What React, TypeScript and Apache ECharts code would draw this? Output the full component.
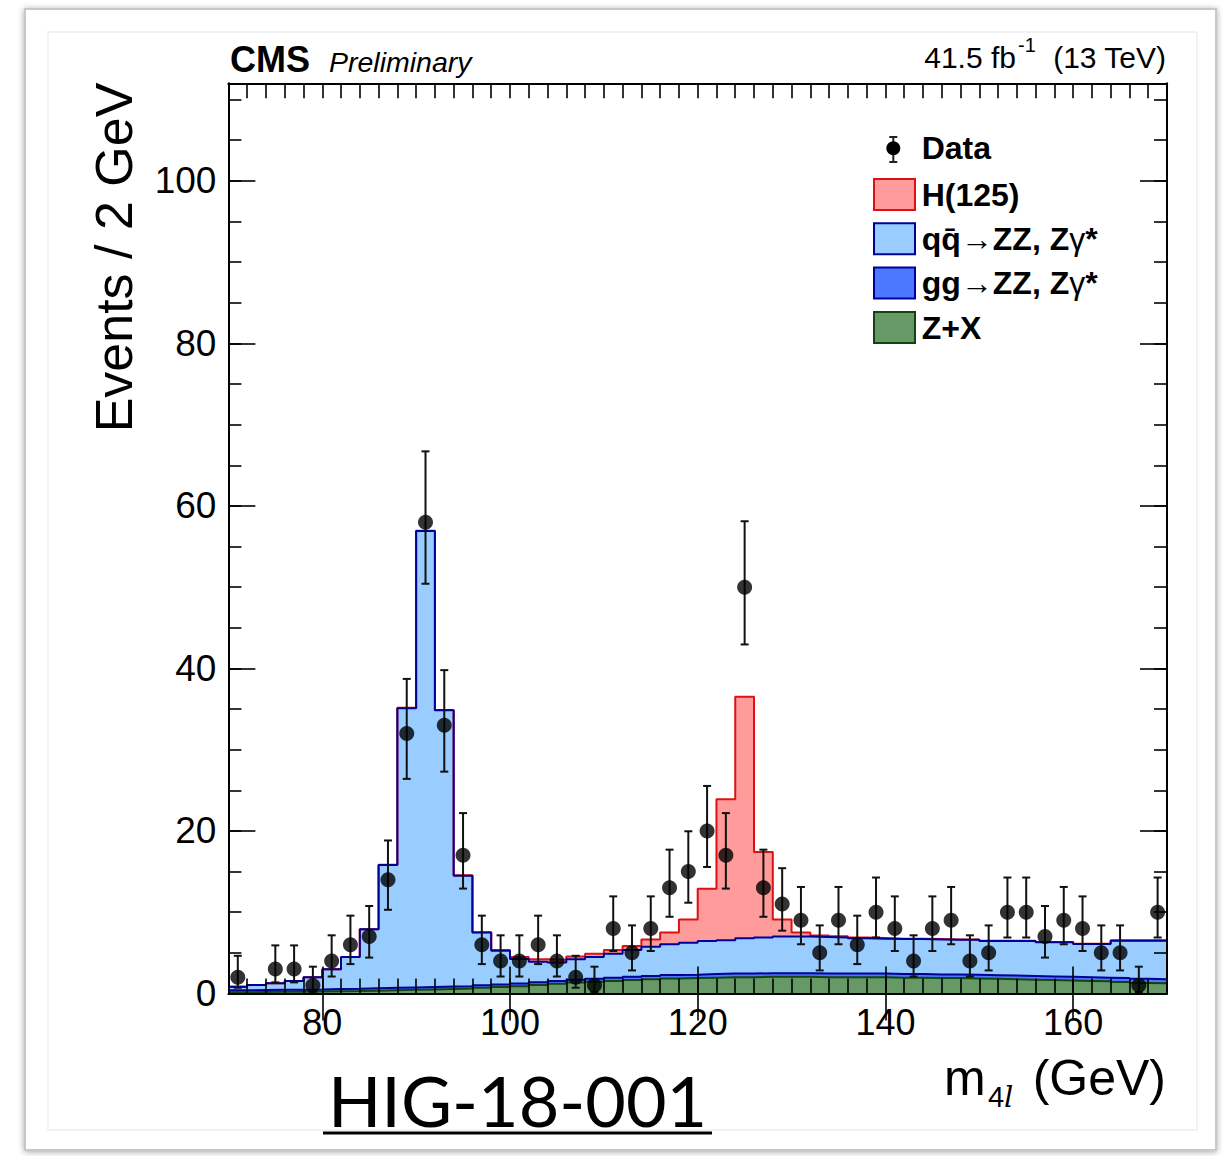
import React, { useEffect, useRef } from "react";
import * as echarts from "echarts";

// ---------- data ----------
const binEdges = [70,72,74,76,78,80,82,84,86,88,90,92,94,96,98,100,102,104,106,108,110,112,114,116,118,120,122,124,126,128,130,132,134,136,138,140,142,144,146,148,150,152,154,156,158,160,162,164,166,168,170];

const dataCounts = [2,0,3,3,1,4,6,7,14,32,58,33,17,6,4,4,6,4,2,1,8,5,8,13,15,20,17,50,13,11,9,5,9,6,10,8,4,8,9,4,5,10,10,7,9,8,5,5,1,10];
const dataLow = [0.71,0,1.37,1.37,0.17,2.09,3.62,4.42,10.3,26.41,50.42,27.3,12.91,3.62,2.09,2.09,3.62,2.09,0.71,0.17,5.23,2.84,5.23,9.44,11.17,15.57,12.91,42.95,9.44,7.73,6.06,2.84,6.06,3.62,6.89,5.23,2.09,5.23,6.06,2.09,2.84,6.89,6.89,4.42,6.06,5.23,2.84,2.84,0.17,6.89];
const dataHigh = [4.64,0,5.92,5.92,3.3,7.16,9.58,10.77,18.83,38.71,66.71,39.79,22.2,9.58,7.16,7.16,9.58,7.16,4.64,3.3,11.95,8.38,11.95,17.7,19.96,25.54,22.2,58.11,17.7,15.42,13.11,8.38,13.11,9.58,14.27,11.95,7.16,11.95,13.11,7.16,8.38,14.27,14.27,10.77,13.11,11.95,8.38,8.38,3.3,14.27];

const zPlusX = [0.15,0.18,0.2,0.22,0.25,0.28,0.3,0.35,0.4,0.45, 0.5,0.55,0.6,0.7,0.8,0.9,1.05,1.2,1.35,1.45, 1.55,1.65,1.75,1.85,1.9,1.95,2.0,2.0,2.05,2.05, 2.05,2.0,2.0,2.0,2.0,1.95,1.95,1.9,1.9,1.85, 1.8,1.75,1.7,1.65,1.6,1.55,1.5,1.4,1.3,1.25];
const ggZZ = [0.25,0.25,0.25,0.25,0.25,0.28,0.28,0.3,0.3,0.3, 0.3,0.3,0.3,0.3,0.32,0.32,0.32,0.35,0.35,0.35, 0.38,0.4,0.4,0.42,0.42,0.45,0.45,0.45,0.45,0.45, 0.45,0.45,0.45,0.45,0.45,0.45,0.45,0.45,0.45,0.45, 0.45,0.45,0.45,0.45,0.45,0.45,0.45,0.5,0.5,0.5];
const qqZZ = [0.44,0.62,0.8,1.07,1.5,2.41,3.92,7.25,15.1,34.35, 56.1,34.0,13.6,6.5,4.14,3.02,2.53,2.25,2.5,2.7, 2.97,3.3,3.6,3.78,3.93,4.05,4.1,4.35,4.4,4.5, 4.5,4.5,4.45,4.35,4.3,4.3,4.3,4.3,4.25,4.3, 4.2,4.25,4.3,4.2,4.25,4.08,4.13,4.6,4.7,4.75];
const higgs = [0,0,0,0,0,0,0,0,0.05,0.05, 0.05,0.05,0.05,0.05,0.1,0.25,0.3,0.35,0.35,0.4, 0.45,0.5,0.9,1.45,2.85,6.45,17.35,29.7,10.5,2.1, 0.5,0.2,0.15,0.1,0.08,0.05,0.05,0.05,0.05,0.05, 0.05,0.05,0.05,0.05,0.05,0.05,0.05,0.05,0.05,0.05];

const xTickLabels = [80, 100, 120, 140, 160];
const yTickLabels = [0, 20, 40, 60, 80, 100];

// ---------- helpers ----------
const FONT = "'Liberation Sans', Arial, Helvetica, sans-serif";

function cumulate(...layers: number[][]) {
  return layers[0].map((_, i) => layers.reduce((s, l) => s + l[i], 0));
}
function stepPoints(vals: number[]) {
  const pts = vals.map((v, i) => [binEdges[i], v]);
  pts.push([binEdges[vals.length], vals[vals.length - 1]]);
  return pts;
}

export default function App() {
  const ref = useRef<HTMLDivElement>(null);
  useEffect(() => {
    const chart = echarts.init(ref.current!, null, { renderer: "svg" });

    const c1 = cumulate(zPlusX);
    const c2 = cumulate(zPlusX, ggZZ);
    const c3 = cumulate(zPlusX, ggZZ, qqZZ);
    const c4 = cumulate(zPlusX, ggZZ, qqZZ, higgs);

    const hist = (name: string, vals: number[], fill: string, stroke: string) => ({
      type: "line",
      name,
      data: stepPoints(vals),
      step: "end",
      symbol: "none",
      showSymbol: false,
      silent: true,
      lineStyle: { color: stroke, width: 2 },
      itemStyle: { color: fill },
      areaStyle: { color: fill, opacity: 1, origin: "start" },
      z: 2,
    });

    const pts: number[][] = [];
    dataCounts.forEach((n, i) => {
      if (n > 0) pts.push([(binEdges[i] + binEdges[i + 1]) / 2, n, dataLow[i], dataHigh[i]]);
    });

    const axisLine = { show: true, onZero: false, lineStyle: { color: "#000", width: 2 } };
    const tickStyle = { color: "#000", width: 1.6 };

    const xBase = { type: "value", min: 70, max: 170, interval: 2, splitLine: { show: false }, z: 10 };
    const yBase = { type: "value", min: 0, max: 112, interval: 5, splitLine: { show: false }, z: 10 };

    const legendRows = [
      { y: 194.5, fill: "#ff9b9b", stroke: "#dd1111" },
      { y: 238.7, fill: "#99ccff", stroke: "#000099" },
      { y: 283, fill: "#4b78ff", stroke: "#000099" },
      { y: 327.5, fill: "#669966", stroke: "#114411" },
    ];
    const legendTexts = [
      { y: 148.3, text: "Data" },
      { y: 194.5, text: "H(125)" },
    ];

    const graphics: any[] = [
      // slide frame
      { type: "rect", z: -10, shape: { x: 25, y: 9, width: 1191, height: 1141 }, style: { fill: "#fff", stroke: "#c8c8c8", lineWidth: 2, shadowBlur: 6, shadowColor: "rgba(0,0,0,0.35)", shadowOffsetX: 0, shadowOffsetY: 1 } },
      { type: "rect", z: -9, shape: { x: 48, y: 32, width: 1149, height: 1098 }, style: { fill: "#fff", stroke: "#eeeeee", lineWidth: 1.5 } },
      // header
      { type: "text", z: 50, x: 230, y: 59.2, style: { text: "CMS", font: `bold 36px ${FONT}`, fill: "#000", textVerticalAlign: "middle" } },
      { type: "text", z: 50, x: 329, y: 62, style: { text: "Preliminary", font: `italic 28.5px ${FONT}`, fill: "#000", textVerticalAlign: "middle" } },
      { type: "text", z: 50, x: 1016, y: 57.3, style: { text: "41.5 fb", font: `30px ${FONT}`, fill: "#000", textAlign: "right", textVerticalAlign: "middle" } },
      { type: "text", z: 50, x: 1018, y: 44.8, style: { text: "-1", font: `20px ${FONT}`, fill: "#000", textVerticalAlign: "middle" } },
      { type: "text", z: 50, x: 1166, y: 57.3, style: { text: "(13 TeV)", font: `30px ${FONT}`, fill: "#000", textAlign: "right", textVerticalAlign: "middle" } },
      // y title
      { type: "text", z: 50, x: 114, y: 257.5, rotation: Math.PI / 2, style: { text: "Events / 2 GeV", font: `52px ${FONT}`, fill: "#000", textAlign: "center", textVerticalAlign: "middle" } },
      // x title
      { type: "text", z: 50, x: 944, y: 1078, style: { text: "m", font: `50px ${FONT}`, fill: "#000", textVerticalAlign: "middle" } },
      { type: "text", z: 50, x: 988, y: 1097, style: { text: "4", font: `29px ${FONT}`, fill: "#000", textVerticalAlign: "middle" } },
      { type: "text", z: 50, x: 1004, y: 1097, style: { text: "l", font: `italic 29px 'DejaVu Serif', serif`, fill: "#000", textVerticalAlign: "middle" } },
      { type: "text", z: 50, x: 1166, y: 1078, style: { text: "(GeV)", font: `50px ${FONT}`, fill: "#000", textAlign: "right", textVerticalAlign: "middle" } },
      // HIG label
      { type: "text", z: 50, x: 517.5, y: 1100, style: { text: "HIG-18-001", font: `70px Lato, 'Open Sans', sans-serif`, fill: "#000", textAlign: "center", textVerticalAlign: "middle" } },
      { type: "line", z: 50, shape: { x1: 323, y1: 1133, x2: 712, y2: 1133 }, style: { stroke: "#000", lineWidth: 3 } },
      // legend: data marker
      { type: "line", z: 50, shape: { x1: 893.3, y1: 137, x2: 893.3, y2: 162 }, style: { stroke: "#222", lineWidth: 2 } },
      { type: "line", z: 50, shape: { x1: 889.3, y1: 137, x2: 897.3, y2: 137 }, style: { stroke: "#222", lineWidth: 2 } },
      { type: "line", z: 50, shape: { x1: 889.3, y1: 162, x2: 897.3, y2: 162 }, style: { stroke: "#222", lineWidth: 2 } },
      { type: "circle", z: 51, shape: { cx: 893.3, cy: 148.3, r: 7 }, style: { fill: "#000" } },
    ];
    legendRows.forEach((r) => {
      graphics.push({ type: "rect", z: 50, shape: { x: 874, y: r.y - 15.5, width: 41, height: 31 }, style: { fill: r.fill, stroke: r.stroke, lineWidth: 2 } });
    });
    legendTexts.forEach((t) => {
      graphics.push({ type: "text", z: 50, x: 921.7, y: t.y, style: { text: t.text, font: `bold 32px ${FONT}`, fill: "#000", textVerticalAlign: "middle" } });
    });
    const richLegend = (prefix: string) =>
      `{b|${prefix}}{n|\u2192}{b|ZZ, Z}{n|\u03b3}{b|*}`;
    const rich = {
      b: { font: `bold 32px ${FONT}`, fill: "#000" },
      n: { font: `32px ${FONT}`, fill: "#000" },
    };
    graphics.push({ type: "text", z: 50, x: 921.7, y: 238.7, style: { text: richLegend("qq\u0304"), rich, textVerticalAlign: "middle" } });
    graphics.push({ type: "text", z: 50, x: 921.7, y: 283, style: { text: richLegend("gg"), rich, textVerticalAlign: "middle" } });
    graphics.push({ type: "text", z: 50, x: 921.7, y: 327.5, style: { text: "Z+X", font: `bold 32px ${FONT}`, fill: "#000", textVerticalAlign: "middle" } });

    const option: any = {
      animation: false,
      backgroundColor: "#ffffff",
      grid: { left: 228.4, right: 56, top: 83.3, bottom: 162.5, containLabel: false },
      xAxis: [
        { ...xBase, position: "bottom", axisLine, axisTick: { inside: true, length: 15, lineStyle: tickStyle },
          axisLabel: { customValues: xTickLabels, fontSize: 36, fontFamily: FONT, color: "#000", margin: 11 } },
        { ...xBase, position: "bottom", axisLine: { show: false }, axisTick: { inside: true, length: 27, customValues: xTickLabels, lineStyle: tickStyle }, axisLabel: { show: false } },
        { ...xBase, position: "top", axisLine, axisTick: { inside: true, length: 15, lineStyle: tickStyle }, axisLabel: { show: false } },
        { ...xBase, position: "top", axisLine: { show: false }, axisTick: { inside: true, length: 27, customValues: xTickLabels, lineStyle: tickStyle }, axisLabel: { show: false } },
      ],
      yAxis: [
        { ...yBase, position: "left", axisLine, axisTick: { inside: true, length: 13, lineStyle: tickStyle },
          axisLabel: { customValues: yTickLabels, fontSize: 37, fontFamily: FONT, color: "#000", margin: 12 } },
        { ...yBase, position: "left", axisLine: { show: false }, axisTick: { inside: true, length: 27, customValues: yTickLabels, lineStyle: tickStyle }, axisLabel: { show: false } },
        { ...yBase, position: "right", axisLine, axisTick: { inside: true, length: 13, lineStyle: tickStyle }, axisLabel: { show: false } },
        { ...yBase, position: "right", axisLine: { show: false }, axisTick: { inside: true, length: 27, customValues: yTickLabels, lineStyle: tickStyle }, axisLabel: { show: false } },
      ],
      series: [
        hist("H(125)", c4, "#ff9b9b", "#dd1111"),
        hist("qq\u0304\u2192ZZ, Z\u03b3*", c3, "#99ccff", "#000099"),
        hist("gg\u2192ZZ, Z\u03b3*", c2, "#4b78ff", "#000099"),
        hist("Z+X", c1, "#669966", "#114411"),
        {
          type: "custom",
          name: "Data errors",
          z: 19,
          silent: true,
          data: pts,
          encode: { x: 0, y: 1 },
          renderItem: (_params: any, api: any) => {
            const x = api.value(0);
            const top = api.coord([x, api.value(3)]);
            const bot = api.coord([x, api.value(2)]);
            const cap = 4;
            const st = { stroke: "#111", lineWidth: 2 };
            return {
              type: "group",
              children: [
                { type: "line", shape: { x1: top[0], y1: top[1], x2: bot[0], y2: bot[1] }, style: st },
                { type: "line", shape: { x1: top[0] - cap, y1: top[1], x2: top[0] + cap, y2: top[1] }, style: st },
                { type: "line", shape: { x1: bot[0] - cap, y1: bot[1], x2: bot[0] + cap, y2: bot[1] }, style: st },
              ],
            };
          },
        },
        {
          type: "scatter",
          name: "Data",
          z: 20,
          silent: true,
          symbol: "circle",
          symbolSize: 15,
          itemStyle: { color: "#000" },
          data: pts.map((p) => [p[0], p[1]]),
        },
      ],
      graphic: graphics,
    };
    chart.setOption(option);
    return () => chart.dispose();
  }, []);
  return (
    <div
      ref={ref}
      style={{ position: "fixed", left: 0, top: 0, width: 1223, height: 1156, background: "#fff" }}
    />
  );
}
